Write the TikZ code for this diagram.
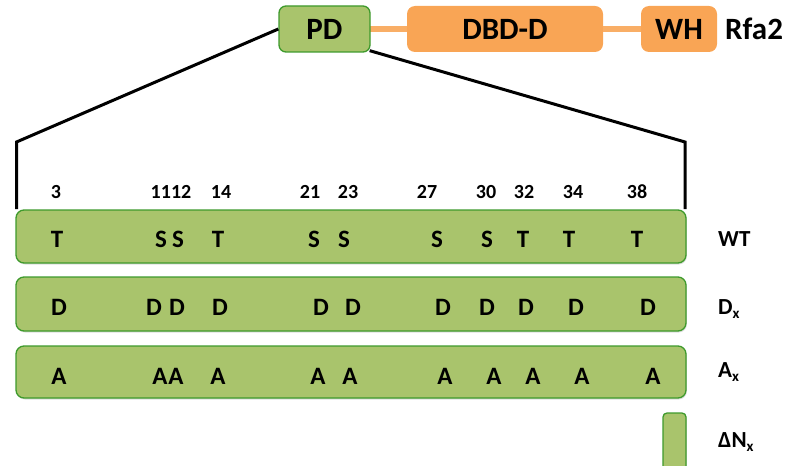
\documentclass[tikz,border=0pt]{standalone}
\usepackage{fontspec}
\setmainfont{Carlito}
\usetikzlibrary{shadows}
\definecolor{pdgreen}{HTML}{A9C46C}
\definecolor{pdborder}{HTML}{3E9A2C}
\definecolor{rfaorange}{HTML}{F9A555}
\definecolor{linkorange}{HTML}{F9AE66}
\tikzset{
  greenbox/.style={draw=pdborder, line width=1.3pt, fill=pdgreen, rounded corners=8pt, inner sep=0pt,
    drop shadow={opacity=0.25, shadow xshift=0.8pt, shadow yshift=-1.5pt}},
  orangebox/.style={fill=rfaorange, rounded corners=8pt, inner sep=0pt},
  domtext/.style={font=\bfseries\fontsize{31}{33}\selectfont},
  res/.style={font=\bfseries\fontsize{25}{27}\selectfont, inner sep=0pt, anchor=center},
  num/.style={font=\bfseries\fontsize{20}{22}\selectfont, inner sep=0pt},
  lab/.style={font=\bfseries\fontsize{23}{25}\selectfont, inner sep=0pt, anchor=west},
  zoomline/.style={line width=3pt, black},
  link/.style={line width=6pt, linkorange}
}
\newcommand{\subx}{\raisebox{-0.35ex}{\fontsize{15}{15}\selectfont x}}
\begin{document}
\begin{tikzpicture}[x=1pt, y=-1pt]
\useasboundingbox (0,0) rectangle (791,465);
\clip (0,0) rectangle (791,465);
% domain bar
\node[orangebox, minimum width=196pt, minimum height=46pt, domtext] (dbd) at (505,29) {DBD-D};
\node[orangebox, minimum width=76pt, minimum height=46pt, domtext] (wh) at (679,29) {WH};
\draw[link] (370,29) -- (dbd.west);
\draw[link] (dbd.east) -- (wh.west);
\node[draw=pdborder, line width=1.3pt, fill=pdgreen, rounded corners=7pt, minimum width=91pt, minimum height=46pt, inner sep=0pt, domtext] (pd) at (324.5,29) {PD};
\node[domtext, anchor=west, inner sep=0pt] (rfa) at (725,29) {Rfa2};
% zoom lines
\coordinate (lc) at (16.5,142);
\coordinate (lb) at (16.5,209);
\coordinate (rc) at (685,142);
\coordinate (rb) at (685,209);
\draw[zoomline] (pd.west) -- (lc) -- (lb);
\draw[zoomline] ([xshift=-1pt,yshift=2pt]pd.south east) -- (rc) -- (rb);
% bars
\node[greenbox, minimum width=670pt, minimum height=53pt] (wt) at (351,236.5) {};
\node[greenbox, minimum width=670pt, minimum height=54pt] (dx) at (351,304) {};
\node[greenbox, minimum width=670pt, minimum height=52pt] (ax) at (351,372) {};
\node[greenbox, rounded corners=4pt, minimum width=23pt, minimum height=70pt] (dn) at (674.5,448) {};
% residue numbers
\foreach \x/\t [count=\i] in {56/3,171/1112,221/14,310/21,348/23,427/27,486/30,524/32,573/34,637/38}
  \node[num] (n\i) at (\x,192) {\t};
% WT residues
\foreach \x/\t [count=\i] in {57/T,161/S,178/S,218/T,314/S,344/S,437/S,487/S,523/T,569/T,637/T}
  \node[res] (w\i) at (\x,239) {\t};
% D residues
\foreach \x [count=\i] in {59,154,177,220,321,353,443,487,526,576,648}
  \node[res] (d\i) at (\x,307) {D};
% A residues
\foreach \x [count=\i] in {59,160,176,218,318,350,445,494,533,582,653}
  \node[res] (a\i) at (\x,376) {A};
% labels
\node[lab] (lwt) at (718,239) {WT};
\node[lab] (ldx) at (718,309) {D\subx};
\node[lab] (lax) at (718,372) {A\subx};
\node[lab] (ldn) at (718,442) {ΔN\subx};
\end{tikzpicture}
\end{document}
